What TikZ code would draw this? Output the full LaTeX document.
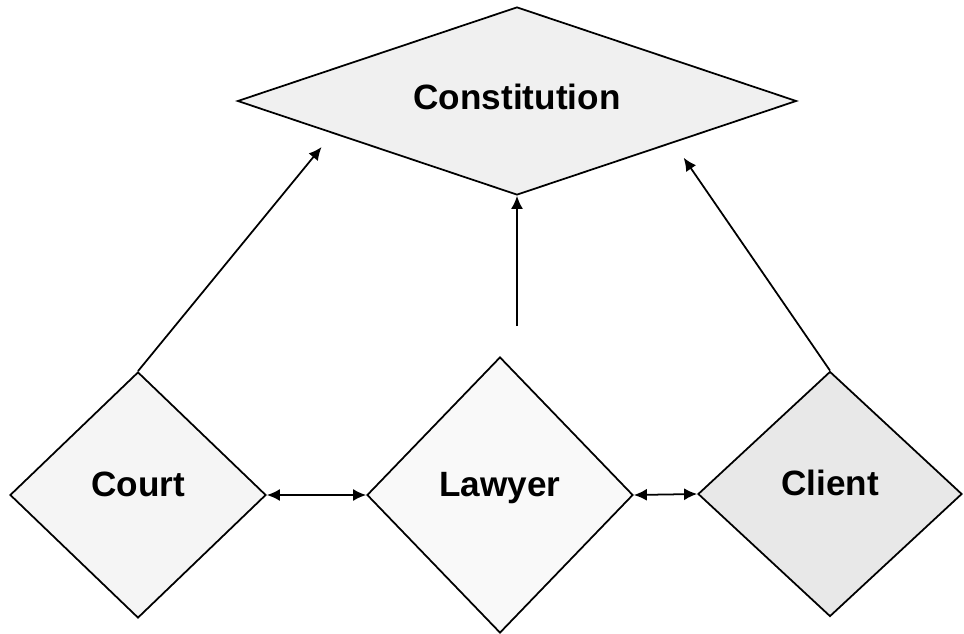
\documentclass[tikz,border=0pt]{standalone}
\usepackage{fontspec}
\setmainfont{Liberation Sans}
\usetikzlibrary{arrows.meta,shapes.geometric}

\begin{document}
\begin{tikzpicture}[
    >={Latex[length=2.6mm,width=2.4mm]},
    dia/.style={diamond, draw=black, line width=1pt, inner sep=0pt, text height=10pt, text depth=8pt, font=\fontsize{20}{24}\selectfont\bfseries},
    link/.style={->, line width=1pt}
  ]
    \useasboundingbox (0,0) rectangle (19.28,12.66);
    \node[dia, shape aspect=3, text height=14pt, text depth=4pt, fill=gray!12, minimum width=11.18cm, minimum height=3.76cm] (const) at (10.34,10.64) {Constitution};
    \node[dia, fill=gray!8, minimum width=5.12cm, minimum height=4.92cm] (court) at (2.76,2.76) {Court};
    \node[dia, fill=gray!5, minimum width=5.32cm, minimum height=5.52cm] (lawyer) at (10.0,2.76) {Lawyer};
    \node[dia, fill=gray!18, minimum width=5.28cm, minimum height=4.9cm] (client) at (16.6,2.78) {Client};
    \draw[link, shorten >=0.35cm] (court.north) -- (const.190);
    \draw[link, shorten <=0.6cm] (lawyer.north -| const.south) -- (const.south);
    \draw[link, shorten >=0.36cm] (client.north) -- (const.345);
    \draw[<->, line width=1pt] (court.east) -- (lawyer.west);
    \draw[<->, line width=1pt] (lawyer.east) -- (client.west);
  \end{tikzpicture}
\end{document}
